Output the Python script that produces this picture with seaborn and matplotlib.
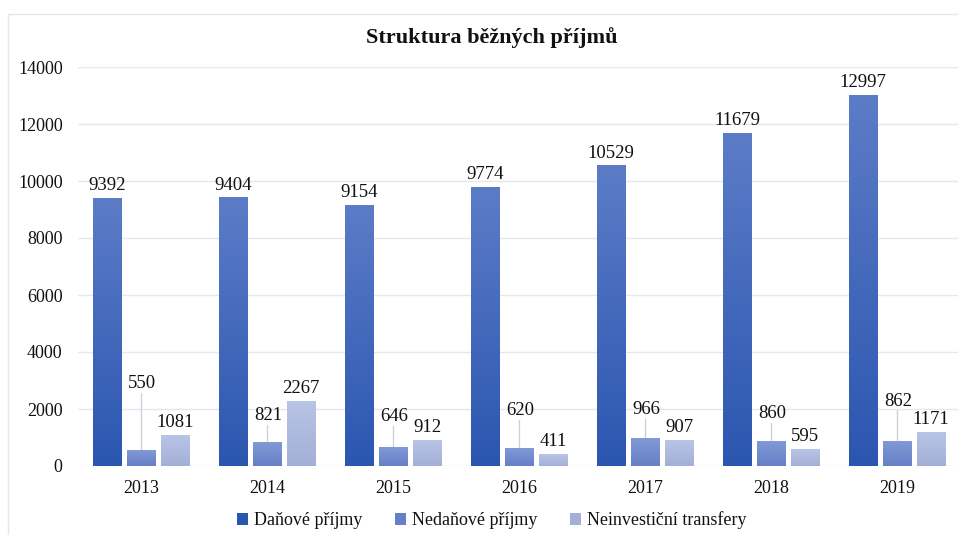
import numpy as np
import pandas as pd
import matplotlib.pyplot as plt
import seaborn as sns
from matplotlib.colors import LinearSegmentedColormap
from matplotlib.patches import Patch, Rectangle

# data
years = ["2013", "2014", "2015", "2016", "2017", "2018", "2019"]
series = ["Daňové příjmy", "Nedaňové příjmy", "Neinvestiční transfery"]
danove = [9392, 9404, 9154, 9774, 10529, 11679, 12997]
nedanove = [550, 821, 646, 620, 966, 860, 862]
transfery = [1081, 2267, 912, 411, 907, 595, 1171]

# layout: heights (data units) where the moved "Nedaňové" labels sit
ned_label_at = [2905, 1785, 1740, 1960, 1995, 1855, 2280]

# gradient colors per series (bottom, top)
grad = {
    "Daňové příjmy": ("#2b56b0", "#5c7cc7"),
    "Nedaňové příjmy": ("#6680c6", "#8299d6"),
    "Neinvestiční transfery": ("#a3afd5", "#b8c5e7"),
}
solid = {"Daňové příjmy": "#3f67bd", "Nedaňové příjmy": "#748cce", "Neinvestiční transfery": "#afbbdf"}

df = pd.DataFrame({
    "rok": years * 3,
    "serie": [series[0]] * 7 + [series[1]] * 7 + [series[2]] * 7,
    "hodnota": danove + nedanove + transfery,
})

sns.set_theme(style="white")
plt.rcParams["font.family"] = ["Liberation Serif", "DejaVu Serif"]

fig = plt.figure(figsize=(9.58, 5.35), dpi=100)
ax = fig.add_axes([78 / 958, 69 / 535, 882 / 958, 399 / 535])

sns.barplot(data=df, x="rok", y="hodnota", hue="serie", hue_order=series,
            palette=solid, width=0.81, gap=0.17, ax=ax, legend=False)

ax.set_ylim(0, 14000)
ax.set_yticks(range(0, 14001, 2000))
ax.grid(axis="y", color="#e4e7ee", linewidth=1)
ax.set_axisbelow(True)
for s in ax.spines.values():
    s.set_visible(False)
ax.set_xlabel("")
ax.set_ylabel("")
ax.tick_params(axis="both", length=0, labelsize=13, colors="#111111")
ax.tick_params(axis="y", pad=11)
ax.tick_params(axis="x", pad=10)

xlim = ax.get_xlim()
# gradient fill for the bars
for name, cont in zip(series, ax.containers):
    cmap = LinearSegmentedColormap.from_list(name, grad[name])
    for bar in cont:
        x0 = bar.get_x()
        w = bar.get_width()
        h = bar.get_height()
        ax.imshow(np.linspace(0, 1, 256).reshape(-1, 1), cmap=cmap, origin="lower",
                  extent=[x0, x0 + w, 0, h], aspect="auto", zorder=2,
                  interpolation="bilinear")
        bar.set_visible(False)
ax.set_xlim(xlim)
ax.set_ylim(0, 14000)

# value labels
for name, cont in zip(series, ax.containers):
    for i, bar in enumerate(cont):
        xc = bar.get_x() + bar.get_width() / 2
        v = bar.get_height()
        if name == "Nedaňové příjmy":
            yl = ned_label_at[i]
            ax.plot([xc, xc], [v, yl - 330], color="#c9cfdc", lw=0.9, zorder=1)
            ax.text(xc + 0.01, yl, f"{v:.0f}", ha="center", va="center", fontsize=13.5,
                    color="#111111", zorder=4)
        else:
            ax.annotate(f"{v:.0f}", (xc, v), xytext=(0, 3), textcoords="offset points",
                        ha="center", va="bottom", fontsize=13.5, color="#111111", zorder=4)

fig.text(0.513, 0.929, "Struktura běžných příjmů", ha="center", va="center",
         fontsize=16, fontweight="bold", color="#111111")

handles = [Patch(facecolor=grad[s][0], edgecolor="none") for s in series]
fig.legend(handles, series, loc="center", bbox_to_anchor=(0.513, 0.028), ncol=3,
           frameon=False, prop={"family": ["Liberation Serif"], "size": 13},
           handlelength=0.65, handleheight=0.65,
           handletextpad=0.3, columnspacing=1.8, labelcolor="#111111")

# outer chart frame
fig.add_artist(Rectangle((8 / 958, -0.1), 1.2, 1 - 14 / 535 + 0.1, transform=fig.transFigure,
                         fill=False, edgecolor="#e3e6ec", linewidth=1))

fig.savefig("out.png", dpi=100)
